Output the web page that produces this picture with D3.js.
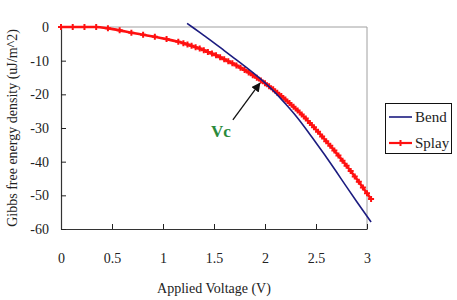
<!DOCTYPE html>
<html><head><meta charset="utf-8">
<script src="https://cdn.jsdelivr.net/npm/d3@7"></script>
<style>body{margin:0;background:#fff;} text{font-family:"Liberation Serif","DejaVu Serif",serif;}</style>
</head><body>
<svg id="c" width="457" height="300"></svg>
<script>
const xTicks = [0, 0.5, 1, 1.5, 2, 2.5, 3];
const xTickLabels = ["0", "0.5", "1", "1.5", "2", "2.5", "3"];
const yTicks = [0, -10, -20, -30, -40, -50, -60];
const yTickLabels = ["0", "-10", "-20", "-30", "-40", "-50", "-60"];

const bendV = [1.236, 1.3, 1.4, 1.5, 1.6, 1.7, 1.8, 1.9, 2.0, 2.1, 2.2, 2.3, 2.4, 2.5, 2.6, 2.7, 2.8, 2.9, 3.0, 3.04];
const bendE = [1.1, -0.3, -2.5, -4.7, -7.0, -9.3, -11.6, -14.0, -16.6, -19.5, -22.8, -26.3, -30.2, -34.4, -38.6, -43.0, -47.5, -51.9, -56.2, -57.9];

const splayV = [0, 0.115, 0.23, 0.345, 0.46, 0.575, 0.69, 0.805, 0.92, 1.035, 1.15,
  1.20, 1.24, 1.28, 1.32, 1.36, 1.40, 1.44, 1.48, 1.52, 1.56, 1.60, 1.64, 1.68, 1.72, 1.76, 1.80,
  1.84, 1.88, 1.92, 1.96, 2.00, 2.04, 2.08, 2.12, 2.16, 2.20, 2.24, 2.28, 2.32, 2.36, 2.40,
  2.44, 2.48, 2.52, 2.56, 2.60, 2.64, 2.68, 2.72, 2.76, 2.80, 2.84, 2.88, 2.92, 2.96, 3.00, 3.04];
const splayE = [0, 0, 0, 0, -0.4, -1.0, -1.7, -2.3, -2.9, -3.6, -4.4,
  -4.8, -5.2, -5.6, -6.0, -6.4, -6.9, -7.4, -7.9, -8.4, -9.0, -9.6, -10.2, -10.8, -11.4, -12.1, -12.8,
  -13.5, -14.3, -15.1, -15.9, -16.7, -17.6, -18.5, -19.5, -20.5, -21.5, -22.6, -23.7, -24.8, -26.0, -27.2,
  -28.5, -29.8, -31.1, -32.5, -33.9, -35.3, -36.7, -38.2, -39.7, -41.2, -42.8, -44.4, -46.0, -47.7, -49.4, -51.1];

const seriesNames = ["Bend", "Splay"];
const seriesColors = ["#1c1c80", "#ff1010"];

const svg = d3.select("#c");
const x = d3.scaleLinear().domain([0, 3]).range([61, 367]);
const y = d3.scaleLinear().domain([-60, 0]).range([229, 27]);
const font = '"Liberation Serif", "DejaVu Serif", serif';

svg.append("line").attr("x1", x(0)).attr("x2", x(3)).attr("y1", y(0)).attr("y2", y(0)).attr("stroke", "#a0a0a0").attr("stroke-width", 1);
svg.append("line").attr("x1", x(3)).attr("x2", x(3)).attr("y1", y(0)).attr("y2", y(-60)).attr("stroke", "#a0a0a0").attr("stroke-width", 1);

const xAxis = d3.axisBottom(x).tickValues(xTicks).tickFormat((d, i) => xTickLabels[i]).tickSizeInner(-5).tickSizeOuter(0).tickPadding(24);
const gx = svg.append("g").attr("transform", `translate(0,${y(-60)})`).call(xAxis);
const yAxis = d3.axisLeft(y).tickValues(yTicks).tickFormat((d, i) => yTickLabels[i]).tickSizeInner(-5).tickSizeOuter(0).tickPadding(12);
const gy = svg.append("g").attr("transform", `translate(${x(0)},0)`).call(yAxis);
[gx, gy].forEach(g => {
  g.attr("font-family", null).style("font-family", font);
  g.select(".domain").attr("stroke", "#333").attr("stroke-width", 1.2);
  g.selectAll(".tick line").attr("stroke", "#222").attr("stroke-width", 1);
  g.selectAll(".tick text").style("font-family", font).attr("font-size", 14).attr("fill", "#222");
});

svg.append("text").attr("x", 214).attr("y", 293).attr("text-anchor", "middle")
  .style("font-family", font).attr("font-size", 14).attr("fill", "#222").text("Applied Voltage (V)");
svg.append("text").attr("transform", "translate(17,128) rotate(-90)").attr("text-anchor", "middle")
  .style("font-family", font).attr("font-size", 14).attr("fill", "#222").text("Gibbs free energy density (uJ/m^2)");

const line = d3.line().x(d => x(d[0])).y(d => y(d[1])).curve(d3.curveMonotoneX);
const bend = bendV.map((v, i) => [v, bendE[i]]);
const splay = splayV.map((v, i) => [v, splayE[i]]);

svg.append("path").datum(splay).attr("d", line).attr("fill", "none").attr("stroke", seriesColors[1]).attr("stroke-width", 2.6);
svg.append("g").selectAll("path").data(splay).join("path")
  .attr("transform", d => `translate(${x(d[0])},${y(d[1])})`)
  .attr("d", d3.symbol(d3.symbolCross, 20)).attr("fill", seriesColors[1]);
svg.append("path").datum(bend).attr("d", line).attr("fill", "none").attr("stroke", seriesColors[0]).attr("stroke-width", 1.6);

const defs = svg.append("defs");
defs.append("marker").attr("id", "ah").attr("viewBox", "0 0 10 10").attr("refX", 9).attr("refY", 5)
  .attr("markerWidth", 7).attr("markerHeight", 7).attr("orient", "auto")
  .append("path").attr("d", "M0,0 L10,5 L0,10 z").attr("fill", "#111");
svg.append("line").attr("x1", x(1.685)).attr("y1", y(-27.6)).attr("x2", x(1.95)).attr("y2", y(-16.7))
  .attr("stroke", "#111").attr("stroke-width", 1.3).attr("marker-end", "url(#ah)");
svg.append("text").attr("x", 221).attr("y", 137).attr("text-anchor", "middle")
  .style("font-family", font).attr("font-weight", "bold")
  .attr("font-size", 17).attr("fill", "#2a8a3a").text("Vc");

const lg = svg.append("g");
lg.append("rect").attr("x", 385.5).attr("y", 103.5).attr("width", 66).attr("height", 50)
  .attr("fill", "#fff").attr("stroke", "#111").attr("stroke-width", 1);
seriesNames.forEach((name, i) => {
  const yy = 117 + i * 26;
  lg.append("line").attr("x1", 389).attr("x2", 412).attr("y1", yy).attr("y2", yy)
    .attr("stroke", seriesColors[i]).attr("stroke-width", i === 0 ? 1.6 : 2.2);
  if (i === 1) lg.append("path").attr("transform", `translate(400.5,${yy})`).attr("d", d3.symbol(d3.symbolCross, 20)).attr("fill", seriesColors[1]);
  lg.append("text").attr("x", 415).attr("y", yy + 5).style("font-family", font).attr("font-size", 15)
    .attr("fill", "#222").text(name);
});
</script>
</body></html>
